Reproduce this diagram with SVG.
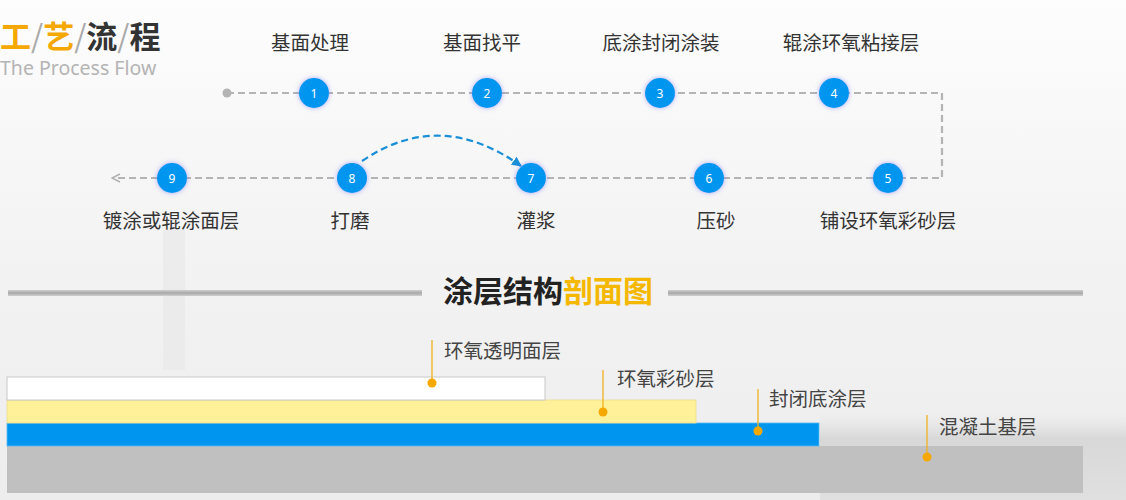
<svg xmlns="http://www.w3.org/2000/svg" width="1126" height="500" viewBox="0 0 1126 500">
<defs>
<linearGradient id="bg" x1="0" y1="0" x2="0" y2="1">
<stop offset="0" stop-color="#fdfdfd"/>
<stop offset="0.5" stop-color="#f3f3f3"/>
<stop offset="1" stop-color="#ededed"/>
</linearGradient>
<linearGradient id="ground" x1="0" y1="0" x2="0" y2="1">
<stop offset="0" stop-color="#e6e6e6" stop-opacity="0"/>
<stop offset="0.3" stop-color="#d8d8d8"/>
<stop offset="1" stop-color="#e0e0e0"/>
</linearGradient>
<linearGradient id="rule" x1="0" y1="0" x2="0" y2="1">
<stop offset="0" stop-color="#d0d0d0"/>
<stop offset="0.5" stop-color="#a8a8a8"/>
<stop offset="1" stop-color="#d0d0d0"/>
</linearGradient>
<filter id="glow" x="-60%" y="-60%" width="220%" height="220%">
<feGaussianBlur in="SourceAlpha" stdDeviation="3"/>
<feFlood flood-color="#6a6aff" flood-opacity="0.55"/>
<feComposite operator="in" in2="SourceAlpha"/>
<feGaussianBlur stdDeviation="2.5"/>
<feMerge><feMergeNode/><feMergeNode in="SourceGraphic"/></feMerge>
</filter>
<marker id="arrGray" markerWidth="10" markerHeight="10" refX="9" refY="5" orient="auto" markerUnits="userSpaceOnUse">
<path d="M1,1 L9,5 L1,9" fill="none" stroke="#b0b0b0" stroke-width="1.5"/>
</marker>
<marker id="arrBlue" markerWidth="12" markerHeight="12" refX="9" refY="6" orient="auto" markerUnits="userSpaceOnUse">
<path d="M0,1 L10,6 L0,11 Z" fill="#1a8fd8"/>
</marker>
<style>
.lbl{font-family:"Noto Sans CJK SC","Noto Sans",sans-serif;font-size:19.5px;fill:#333;text-anchor:middle}
.num{font-family:"Noto Sans","DejaVu Sans",sans-serif;font-size:12px;fill:#fff;text-anchor:middle;dominant-baseline:central}
.dot{fill:#0096f0;filter:url(#glow)}
.flow{fill:none;stroke:#b4b4b4;stroke-width:2.2;stroke-dasharray:7 4}
.lead{stroke:#f0b020;stroke-width:1.3}
.pin{fill:#f5a800}
.llbl{font-family:"Noto Sans CJK SC","Noto Sans",sans-serif;font-size:19.5px;fill:#444}
</style>
</defs>
<rect width="1126" height="500" fill="url(#bg)"/>
<rect x="163" y="230" width="22" height="140" fill="#e8e8e8" opacity="0.7"/>
<rect x="820" y="412" width="306" height="88" fill="url(#ground)"/>

<g id="title">
<text x="0" y="48" font-family="Noto Sans CJK SC,sans-serif" font-size="31" font-weight="bold"><tspan fill="#f5a800">工</tspan><tspan fill="#aaa" font-weight="normal">/</tspan><tspan fill="#f5a800">艺</tspan><tspan fill="#aaa" font-weight="normal">/</tspan><tspan fill="#333">流</tspan><tspan fill="#aaa" font-weight="normal">/</tspan><tspan fill="#333">程</tspan></text>
<text x="0" y="75" font-family="Noto Sans,sans-serif" font-size="19.5" fill="#b4b4b4">The Process Flow</text>
</g>

<g id="connectors">
<circle cx="227" cy="93" r="4.5" fill="#b4b4b4"/>
<path class="flow" d="M227,93 H942 V178 H112" marker-end="url(#arrGray)"/>
<path d="M362,161 Q440,108 521,166" fill="none" stroke="#1a8fd8" stroke-width="2.2" stroke-dasharray="7 4" marker-end="url(#arrBlue)"/>
</g>

<g id="step1"><circle class="dot" cx="314" cy="93" r="15"/><text class="num" x="314" y="93">1</text><text class="lbl" x="310" y="50">基面处理</text></g>
<g id="step2"><circle class="dot" cx="487" cy="93" r="15"/><text class="num" x="487" y="93">2</text><text class="lbl" x="482" y="50">基面找平</text></g>
<g id="step3"><circle class="dot" cx="660" cy="93" r="15"/><text class="num" x="660" y="93">3</text><text class="lbl" x="661" y="50">底涂封闭涂装</text></g>
<g id="step4"><circle class="dot" cx="834" cy="93" r="15"/><text class="num" x="834" y="93">4</text><text class="lbl" x="851" y="50">辊涂环氧粘接层</text></g>
<g id="step5"><circle class="dot" cx="888" cy="178" r="15"/><text class="num" x="888" y="178">5</text><text class="lbl" x="888" y="228">铺设环氧彩砂层</text></g>
<g id="step6"><circle class="dot" cx="709" cy="178" r="15"/><text class="num" x="709" y="178">6</text><text class="lbl" x="716" y="228">压砂</text></g>
<g id="step7"><circle class="dot" cx="531" cy="178" r="15"/><text class="num" x="531" y="178">7</text><text class="lbl" x="536" y="228">灌浆</text></g>
<g id="step8"><circle class="dot" cx="352" cy="178" r="15"/><text class="num" x="352" y="178">8</text><text class="lbl" x="350" y="228">打磨</text></g>
<g id="step9"><circle class="dot" cx="172" cy="178" r="15"/><text class="num" x="172" y="178">9</text><text class="lbl" x="171" y="228">镀涂或辊涂面层</text></g>

<g id="section-title">
<rect x="8" y="290" width="414" height="6" fill="url(#rule)"/>
<rect x="668" y="290" width="415" height="6" fill="url(#rule)"/>
<text x="548" y="302" text-anchor="middle" font-family="Noto Sans CJK SC,sans-serif" font-size="30" font-weight="bold"><tspan fill="#222">涂层结构</tspan><tspan fill="#f5b800">剖面图</tspan></text>
</g>

<g id="layers">
<rect x="7" y="446" width="1076" height="47" fill="#c0c0c0"/>
<rect x="7" y="423" width="812" height="23" fill="#0096f0" stroke="#5ab8f0" stroke-width="0.8"/>
<rect x="7" y="400" width="689" height="23" fill="#fff199" stroke="#e8dc90" stroke-width="0.8"/>
<rect x="7" y="377" width="538" height="23" fill="#ffffff" stroke="#c8c8c8" stroke-width="1"/>
</g>

<g id="label-top">
<line class="lead" x1="432" y1="340" x2="432" y2="383"/><circle class="pin" cx="432" cy="383" r="4.5"/>
<text class="llbl" x="444" y="358">环氧透明面层</text>
</g>
<g id="label-sand">
<line class="lead" x1="603" y1="370" x2="603" y2="412"/><circle class="pin" cx="603" cy="412" r="4.5"/>
<text class="llbl" x="617" y="386">环氧彩砂层</text>
</g>
<g id="label-primer">
<line class="lead" x1="758" y1="389" x2="758" y2="431"/><circle class="pin" cx="758" cy="431" r="4.5"/>
<text class="llbl" x="769" y="406">封闭底涂层</text>
</g>
<g id="label-base">
<line class="lead" x1="927" y1="415" x2="927" y2="457"/><circle class="pin" cx="927" cy="457" r="4.5"/>
<text class="llbl" x="939" y="434">混凝土基层</text>
</g>
</svg>
